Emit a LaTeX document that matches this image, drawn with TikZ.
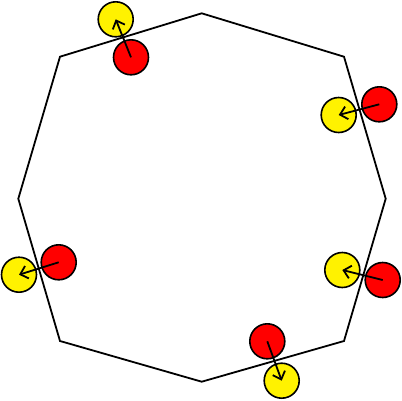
\documentclass[tikz,border=0pt]{standalone}
\usetikzlibrary{arrows.meta}
\begin{document}
\begin{tikzpicture}[x=1pt,y=-1pt,
  ball/.style={circle,draw=black,line width=1.6pt,minimum size=35pt,inner sep=0pt},
  redball/.style={ball,fill=red},
  yelball/.style={ball,fill=yellow},
  push/.style={line width=1.8pt,-{Straight Barb[length=7pt,width=13pt,line width=1.8pt]}},
  edge/.style={line width=1.8pt,line join=miter}]
\useasboundingbox (0,0) rectangle (402,400);
\coordinate (v1) at (201.7,13.3);
\coordinate (v2) at (344,56.7);
\coordinate (v3) at (385.7,198.7);
\coordinate (v4) at (344,341);
\coordinate (v5) at (201.7,381.7);
\coordinate (v6) at (60,341);
\coordinate (v7) at (18.3,198.7);
\coordinate (v8) at (60,56.7);
\draw[edge] (v1) -- (v2) -- (v3) -- (v4) -- (v5) -- (v6) -- (v7) -- (v8) -- cycle;
\node[yelball] (y1) at (115.7,19.3) {};
\node[redball] (r1) at (131,57.3) {};
\node[yelball] (y2) at (338.7,115) {};
\node[redball] (r2) at (379.3,104.3) {};
\node[yelball] (y3) at (342.3,270) {};
\node[redball] (r3) at (382.7,280) {};
\node[redball] (r4) at (267.3,341.3) {};
\node[yelball] (y4) at (281.7,380.7) {};
\node[redball] (r5) at (58.7,262.3) {};
\node[yelball] (y5) at (19,274.7) {};
\draw[push] (r1.center) -- (y1.center);
\draw[push] (r2.center) -- (y2.center);
\draw[push] (r3.center) -- (y3.center);
\draw[push] (r4.center) -- (y4.center);
\draw[push] (r5.center) -- (y5.center);
\end{tikzpicture}
\end{document}
